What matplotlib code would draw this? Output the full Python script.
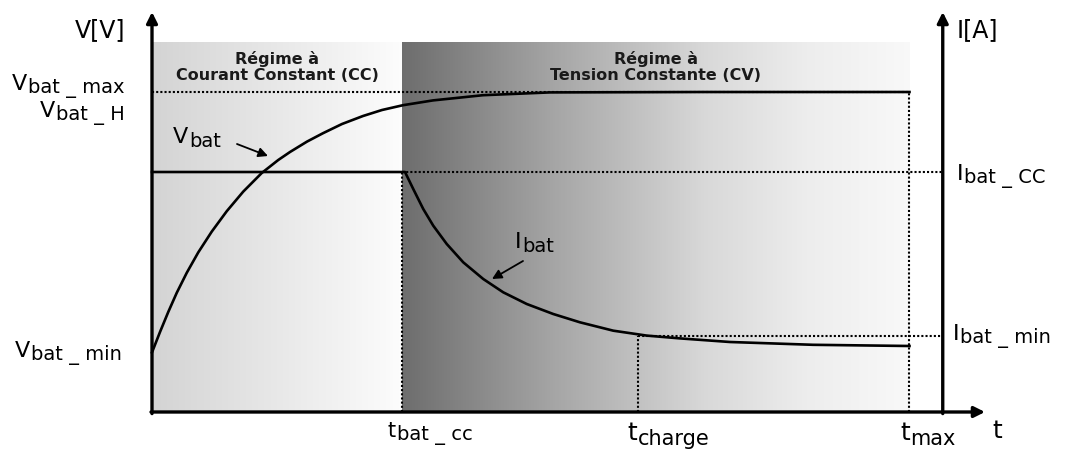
"""
Charge d'une batterie : régime CC puis régime CV
"""
import numpy as np
import matplotlib.pyplot as plt
from matplotlib.colors import LinearSegmentedColormap

plt.rcParams['font.family'] = ['DejaVu Sans']

# instants caractéristiques (t_bat_cc pris comme unité)
t_bat_cc = 1.0
t_charge = 1.944
t_max = 3.03

# niveaux normalisés
v_bat_max = 0.8
i_bat_cc = 0.6
i_bat_min = 0.19

# tension batterie
t_vbat = [0, 0.032, 0.065, 0.099, 0.139, 0.185, 0.239, 0.299, 0.365, 0.439, 0.505, 0.552,
          0.62, 0.684, 0.76, 0.844, 0.92, 1.004, 1.124, 1.324, 1.592, 2.2, 3.03]
vbat = [0.149, 0.2, 0.25, 0.298, 0.348, 0.399, 0.451, 0.502, 0.551, 0.5975, 0.63, 0.65,
        0.676, 0.697, 0.72, 0.74, 0.755, 0.767, 0.779, 0.792, 0.799, 0.8, 0.8]

# courant batterie
t_ibat = [0, 1.0, 1.012, 1.045, 1.085, 1.125, 1.179, 1.245, 1.325, 1.405, 1.499, 1.605,
          1.712, 1.845, 1.979, 2.112, 2.312, 2.644, 3.03]
ibat = [0.6, 0.6, 0.6, 0.5575, 0.5075, 0.4658, 0.42, 0.3742, 0.3325, 0.2992, 0.27, 0.245,
        0.2242, 0.2033, 0.191, 0.184, 0.175, 0.168, 0.165]

# teintes de fond (niveau de gris)
cc_shade = [(0, 0.83), (1, 0.99)]
cv_shade = [(0, 0.43), (0.3, 0.65), (0.6, 0.85), (0.8, 0.93), (1, 0.975)]

x_right = 3.163   # axe I[A]
x_end = 3.332     # bout de l'axe t
y_top = 1.0
shade_top = 0.925

fig = plt.figure(figsize=(10.66, 4.52), dpi=100)
ax = fig.add_axes([0, 0, 1, 1])
ax.axis('off')

grad = np.linspace(0, 1, 256).reshape(1, -1)
cmap_cc = LinearSegmentedColormap.from_list('cc', [(f, str(g)) for f, g in cc_shade])
cmap_cv = LinearSegmentedColormap.from_list('cv', [(f, str(g)) for f, g in cv_shade])
ax.imshow(grad, cmap=cmap_cc, extent=[0, t_bat_cc, 0, shade_top], aspect='auto', zorder=0)
ax.imshow(grad, cmap=cmap_cv, extent=[t_bat_cc, t_max, 0, shade_top], aspect='auto', zorder=0)

dot = dict(color='black', lw=1.5, linestyle=(0, (1, 1)), zorder=2)
ax.plot([0, t_max], [v_bat_max, v_bat_max], **dot)
ax.plot([t_bat_cc, x_right], [i_bat_cc, i_bat_cc], **dot)
ax.plot([t_charge, x_right], [i_bat_min, i_bat_min], **dot)
ax.plot([t_bat_cc, t_bat_cc], [0, i_bat_cc], **dot)
ax.plot([t_charge, t_charge], [0, i_bat_min], **dot)
ax.plot([t_max, t_max], [0, v_bat_max], **dot)

ax.plot(t_vbat, vbat, color='black', lw=1.9, zorder=3)
ax.plot(t_ibat, ibat, color='black', lw=1.9, zorder=3)

axis_arrow = dict(arrowstyle='-|>', lw=2.4, color='black', mutation_scale=16,
                  shrinkA=0, shrinkB=0)
ax.annotate('', xy=(0, y_top), xytext=(0, -0.004), arrowprops=axis_arrow, zorder=4)
ax.annotate('', xy=(x_right, y_top), xytext=(x_right, -0.004), arrowprops=axis_arrow, zorder=4)
ax.annotate('', xy=(x_end, 0), xytext=(-0.004, 0), arrowprops=axis_arrow, zorder=4)


def sub_label(x, y, main, sub, size=16, sub_size=14):
    t = ax.text(x, y, main, fontsize=size, va='baseline', ha='left', zorder=5)
    ax.annotate(sub, xy=(1, 0), xycoords=t, xytext=(0.5, -3), textcoords='offset points',
                fontsize=sub_size, va='bottom', ha='left', zorder=5)


ax.text(-0.308, 0.94, 'V[V]', fontsize=17, va='baseline')
ax.text(3.22, 0.94, 'I[A]', fontsize=17, va='baseline')

sub_label(-0.56, 0.8075, 'V', 'bat _ max')
sub_label(-0.448, 0.74, 'V', 'bat _ H')
sub_label(-0.548, 0.14, 'V', 'bat _ min')
sub_label(3.22, 0.5825, 'I', 'bat _ CC')
sub_label(3.204, 0.1825, 'I', 'bat _ min')

sub_label(0.084, 0.675, 'V', 'bat')
sub_label(1.452, 0.4125, 'I', 'bat')
pointer = dict(arrowstyle='-|>', lw=1.3, color='black', mutation_scale=14, shrinkA=0, shrinkB=0)
ax.annotate('', xy=(0.464, 0.64), xytext=(0.34, 0.67), arrowprops=pointer, zorder=5)
ax.annotate('', xy=(1.36, 0.3325), xytext=(1.484, 0.3775), arrowprops=pointer, zorder=5)

sub_label(0.944, -0.06, 't', 'bat _ cc', size=15, sub_size=14)
sub_label(1.9, -0.0675, 't', 'charge', size=18, sub_size=15)
sub_label(2.992, -0.0675, 't', 'max', size=18, sub_size=15)
ax.text(3.36, -0.0625, 't', fontsize=18, va='baseline')

title = dict(fontsize=11.5, fontweight='bold', ha='center', va='bottom', linespacing=1.05,
             color='0.1', zorder=5)
ax.text(t_bat_cc / 2, 0.825, 'Régime à\nCourant Constant (CC)', **title)
ax.text((t_bat_cc + t_max) / 2, 0.825, 'Régime à\nTension Constante (CV)', **title)

ax.set_xlim(-0.608, 3.656)
ax.set_ylim(-0.0975, 1.0325)
fig.savefig('out.png', dpi=100)
